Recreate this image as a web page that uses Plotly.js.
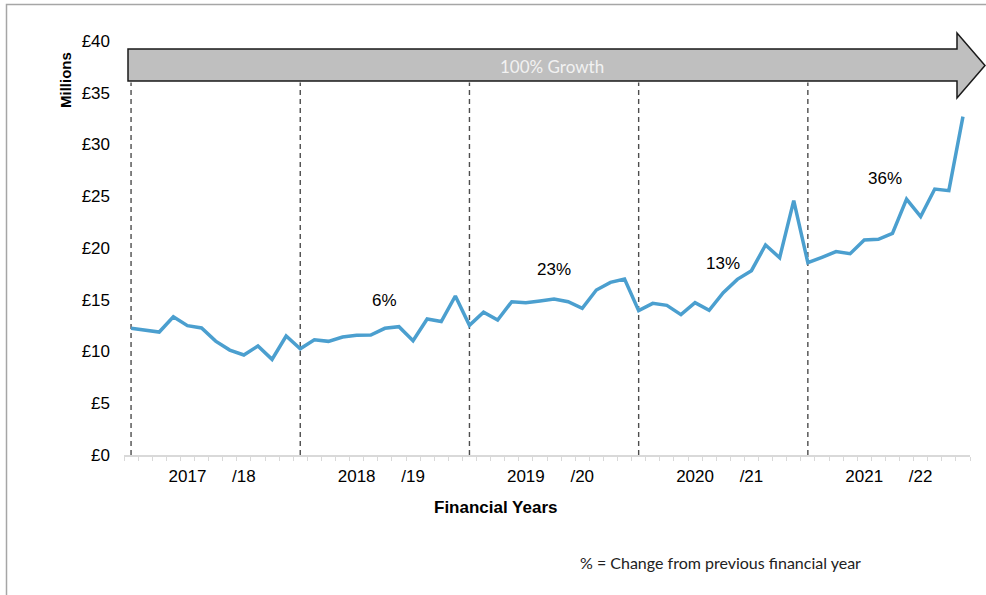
<!DOCTYPE html>
<html>
<head>
<meta charset="utf-8">
<script src="https://cdn.plot.ly/plotly-3.0.1.min.js"></script>
<style>html,body{margin:0;padding:0;background:#fff;}#chart{width:986px;height:595px;}</style>
</head>
<body>
<div id="chart"></div>
<script>
// ---- data ----
const monthIndex = Array.from({length: 60}, (_, i) => i);
const receipts = [
  12.24, 12.08, 11.88, 13.36, 12.50, 12.27, 11.00, 10.14, 9.66, 10.53, 9.24, 11.50,
  10.27, 11.14, 10.98, 11.40, 11.56, 11.59, 12.24, 12.40, 11.05, 13.14, 12.90, 15.36,
  12.53, 13.80, 13.04, 14.81, 14.72, 14.88, 15.07, 14.81, 14.17, 15.94, 16.68, 17.00,
  13.95, 14.65, 14.46, 13.56, 14.72, 13.98, 15.68, 16.97, 17.81, 20.29, 19.06, 24.57,
  18.58, 19.10, 19.65, 19.45, 20.77, 20.84, 21.42, 24.73, 23.03, 25.70, 25.54, 32.69
];
const yearStarts = [0, 12, 24, 36, 48];
const labelVals = [4, 8, 16, 20, 28, 32, 40, 44, 52, 56];
const labelText = ["2017", "/18", "2018", "/19", "2019", "/20", "2020", "/21", "2021", "/22"];
const yTickVals = [0, 5, 10, 15, 20, 25, 30, 35, 40];
const yTickText = ["£0", "£5", "£10", "£15", "£20", "£25", "£30", "£35", "£40"];
const changeText = ["6%", "23%", "13%", "36%"];
const changeX = [18, 30, 42, 53.5];
const changeY = [14.9, 17.9, 18.55, 26.7];
const growthText = "100% Growth";

// ---- geometry helpers (decorations only) ----
const W = 986, H = 595;
const M = {l: 124, r: 16, t: 41, b: 140};
const PW = W - M.l - M.r, PH = H - M.t - M.b;
const px = x => (x - M.l) / PW;
const py = y => (H - M.b - y) / PH;

const minorVals = [];
for (let i = -0.5; i <= 59.5; i += 1) minorVals.push(i);

const shapes = [];
// outer frame
shapes.push({type: 'rect', xref: 'paper', yref: 'paper', x0: px(6.5), x1: px(1100), y0: py(4.5), y1: py(700),
  line: {color: '#a6a6a6', width: 1.5}, fillcolor: 'rgba(0,0,0,0)', layer: 'below'});
// dashed year separators
yearStarts.forEach(v => shapes.push({type: 'line', xref: 'x', yref: 'y', x0: v, x1: v, y0: 0, y1: 36,
  line: {color: '#4d4d4d', width: 1.4, dash: '5px,4px'}, layer: 'below'}));
// growth arrow
const arrowPts = [[128, 49], [957, 49], [957, 33], [985, 65.5], [957, 98], [957, 81], [128, 81]];
const pathStr = 'M' + arrowPts.map(p => px(p[0]).toFixed(5) + ',' + py(p[1]).toFixed(5)).join(' L') + ' Z';
shapes.push({type: 'path', xref: 'paper', yref: 'paper', path: pathStr,
  fillcolor: '#bfbfbf', line: {color: '#1a1a1a', width: 1.5}, layer: 'above'});

const annotations = [];
changeText.forEach((t, i) => annotations.push({x: changeX[i], y: changeY[i], xref: 'x', yref: 'y', text: t,
  xanchor: 'center', yanchor: 'middle',
  showarrow: false, font: {family: 'Liberation Sans, Arial', size: 17, color: '#000'}}));
annotations.push({x: px(552), y: py(66), xref: 'paper', yref: 'paper', text: growthText, showarrow: false,
  xanchor: 'center', yanchor: 'middle',
  font: {family: 'Lato, Open Sans', size: 17, color: '#f2f2f2'}});
annotations.push({x: px(66), y: py(80), xref: 'paper', yref: 'paper', text: '<b>Millions</b>', textangle: -90,
  xanchor: 'center', yanchor: 'middle',
  showarrow: false, font: {family: 'Liberation Sans, Arial', size: 15, color: '#000'}});
annotations.push({x: px(495.5), y: py(507), xref: 'paper', yref: 'paper', text: '<b>Financial Years</b>',
  xanchor: 'center', yanchor: 'middle',
  showarrow: false, font: {family: 'Liberation Sans, Arial', size: 17, color: '#000'}});
annotations.push({x: px(720), y: py(562), xref: 'paper', yref: 'paper', text: '% = Change from previous financial year',
  xanchor: 'center', yanchor: 'middle',
  showarrow: false, font: {family: 'Lato, Open Sans', size: 16, color: '#222'}});

const trace = {x: monthIndex, y: receipts, type: 'scatter', mode: 'lines',
  line: {color: '#4b9fcf', width: 3.5}, hoverinfo: 'skip', cliponaxis: false};

const layout = {
  width: W, height: H,
  margin: M,
  paper_bgcolor: '#fff', plot_bgcolor: '#fff',
  showlegend: false,
  xaxis: {range: [-0.5, 59.5], tickmode: 'array', tickvals: labelVals, ticktext: labelText,
    ticks: '', showgrid: false, zeroline: false, showline: true, linecolor: '#d9d9d9', linewidth: 1.5,
    tickfont: {family: 'Liberation Sans, Arial', size: 17, color: '#000'}, ticklabelstandoff: 5,
    minor: {tickmode: 'array', tickvals: minorVals, ticks: 'outside', ticklen: 4, tickwidth: 1, tickcolor: '#d9d9d9', showgrid: false},
    fixedrange: true},
  yaxis: {range: [0, 40], tickmode: 'array', tickvals: yTickVals, ticktext: yTickText,
    ticks: '', showgrid: false, zeroline: false, showline: false,
    tickfont: {family: 'Liberation Sans, Arial', size: 17, color: '#000'}, ticklabelstandoff: 13,
    fixedrange: true},
  shapes: shapes,
  annotations: annotations
};

Plotly.newPlot('chart', [trace], layout, {displayModeBar: false, staticPlot: true});
</script>
</body>
</html>
